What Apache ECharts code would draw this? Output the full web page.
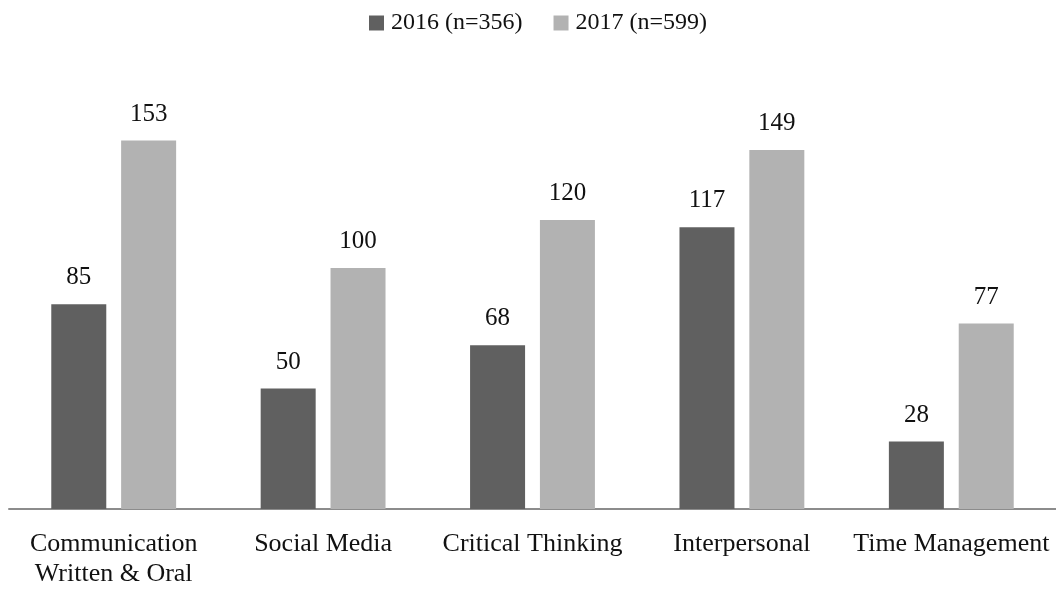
<!DOCTYPE html>
<html><head><meta charset="utf-8">
<script src="https://cdn.jsdelivr.net/npm/echarts@6/dist/echarts.min.js"></script>
<style>html,body{margin:0;padding:0;background:#fff}#c{width:1056px;height:589px}</style>
</head><body><div id="c"></div>
<script>
var categories = ['Communication\nWritten & Oral', 'Social Media', 'Critical Thinking', 'Interpersonal', 'Time Management'];
var seriesNames = ['2016 (n=356)', '2017 (n=599)'];
var values2016 = [85, 50, 68, 117, 28];
var values2017 = [153, 100, 120, 149, 77];

var FONT = '"Liberation Serif", serif';
var chart = echarts.init(document.getElementById('c'));
var labelCfg = {show: true, position: 'top', distance: 14, color: '#111', fontSize: 25, fontFamily: FONT};
chart.setOption({
  animation: false,
  textStyle: {fontFamily: FONT},
  legend: {
    top: 11, left: 369, padding: 0, itemWidth: 15, itemHeight: 15, itemGap: 31,
    icon: 'rect',
    textStyle: {fontSize: 24, color: '#111', fontFamily: FONT, padding: [0, 0, 0, 2]},
    data: seriesNames
  },
  grid: {left: 9, right: 0, top: 75.4, bottom: 67},
  xAxis: {
    type: 'category', data: categories,
    axisLine: {lineStyle: {color: '#8c8c8c', width: 2}},
    axisTick: {show: false},
    axisLabel: {color: '#111', fontSize: 26, fontFamily: FONT, margin: 20, lineHeight: 30, interval: 0}
  },
  yAxis: {type: 'value', min: 0, max: 180, show: false, splitLine: {show: false}},
  series: [
    {name: seriesNames[0], type: 'bar', data: values2016, barWidth: 55, barGap: '27%',
     itemStyle: {color: '#606060'}, label: labelCfg},
    {name: seriesNames[1], type: 'bar', data: values2017, barWidth: 55,
     itemStyle: {color: '#b2b2b2'}, label: labelCfg}
  ]
});
</script></body></html>
